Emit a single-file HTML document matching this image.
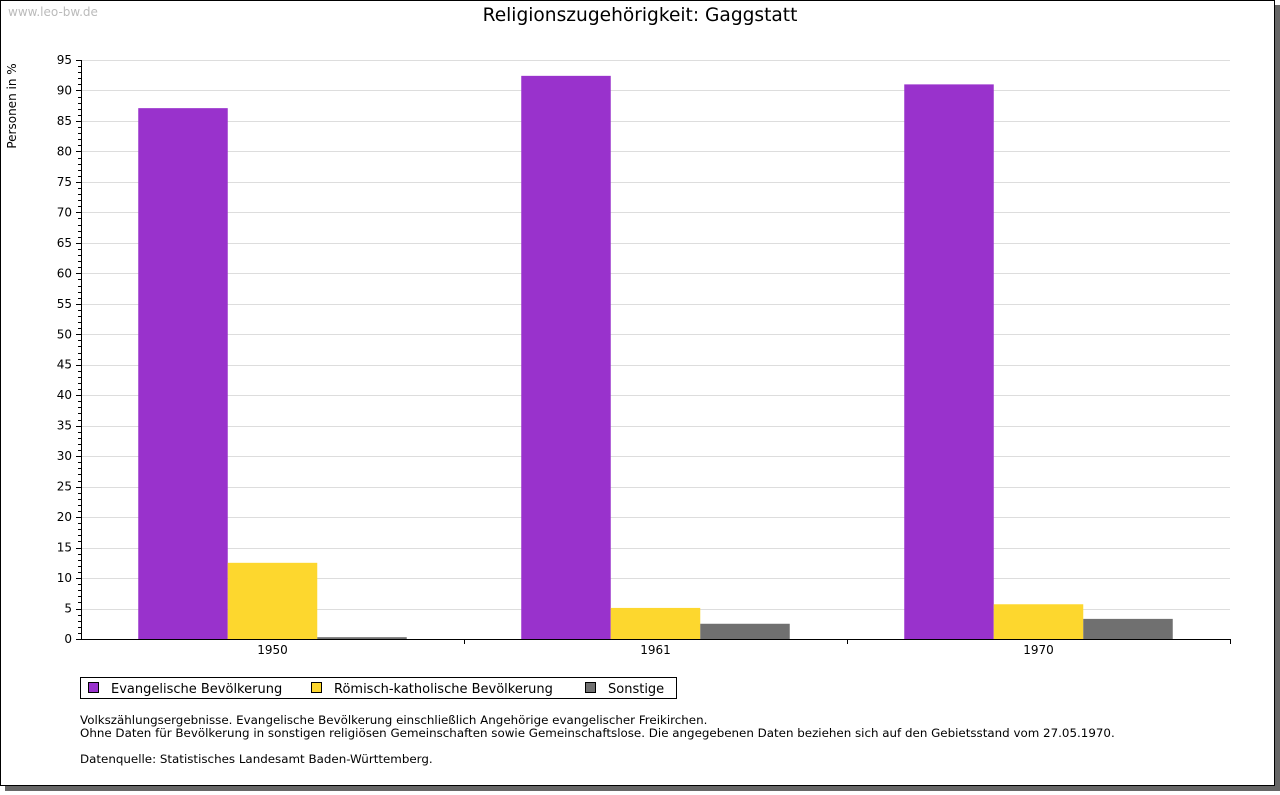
<!DOCTYPE html>
<html><head><meta charset="utf-8"><style>
body{margin:0;background:#fff;font-family:"DejaVu Sans","Liberation Sans",sans-serif;}
svg text{font-family:"DejaVu Sans","Liberation Sans",sans-serif;}
</style></head><body>
<svg id="c" width="1280" height="791" xmlns="http://www.w3.org/2000/svg">
<rect x="5" y="5" width="1275" height="786" fill="#666"/>
<rect x="0.5" y="0.5" width="1274" height="785" fill="#fff" stroke="#000"/>
<text x="8" y="16" font-size="12" fill="#bbb">www.leo-bw.de</text>
<text x="640" y="21" font-size="18.6" text-anchor="middle">Religionszugehörigkeit: Gaggstatt</text>
<text transform="translate(16,106) rotate(-90)" font-size="12" text-anchor="middle">Personen in %</text>
<g id="grid"></g><g id="bars"></g><g id="axes"></g>
<g>
<rect x="80.5" y="677.5" width="596" height="21" fill="#fff" stroke="#000"/>
<rect x="88.5" y="682.5" width="10" height="10" fill="#9932cc" stroke="#000"/>
<text x="111" y="693" font-size="13">Evangelische Bevölkerung</text>
<rect x="311.5" y="682.5" width="10" height="10" fill="#fdd72e" stroke="#000"/>
<text x="334" y="693" font-size="13">Römisch-katholische Bevölkerung</text>
<rect x="585.5" y="682.5" width="10" height="10" fill="#707070" stroke="#000"/>
<text x="608" y="693" font-size="13">Sonstige</text>
</g>
<g font-size="11.86">
<text x="80" y="724">Volkszählungsergebnisse. Evangelische Bevölkerung einschließlich Angehörige evangelischer Freikirchen.</text>
<text x="80" y="737">Ohne Daten für Bevölkerung in sonstigen religiösen Gemeinschaften sowie Gemeinschaftslose. Die angegebenen Daten beziehen sich auf den Gebietsstand vom 27.05.1970.</text>
<text x="80" y="763">Datenquelle: Statistisches Landesamt Baden-Württemberg.</text>
</g>
</svg>
<script>
const categories=["1950","1961","1970"];
const evangelisch=[87.1,92.4,91.0];
const katholisch=[12.5,5.1,5.7];
const sonstige=[0.3,2.5,3.3];
const yTicks=[0,5,10,15,20,25,30,35,40,45,50,55,60,65,70,75,80,85,90,95];
const NS="http://www.w3.org/2000/svg";
const X0=81,X1=1230,Y0=639,Y1=60,YMAX=95;
const y=v=>Y0-(v/YMAX)*(Y0-Y1);
const gw=(X1-X0)/categories.length;
const bw=89.5;
function mk(t,a,p){const e=document.createElementNS(NS,t);for(const k in a)e.setAttribute(k,a[k]);p.appendChild(e);return e;}
const grid=document.getElementById('grid'),bars=document.getElementById('bars'),axes=document.getElementById('axes');
yTicks.forEach(v=>{
 if(v>0){const l=mk('line',{x1:X0,x2:X1,y1:Math.round(y(v))+0.5,y2:Math.round(y(v))+0.5,stroke:'#ddd'},grid);
 
 }
 const t=mk('text',{x:X0-9,y:y(v)+4,'font-size':12,'text-anchor':'end'},axes);t.textContent=v;
 
 
});
for(let v=0;v<=YMAX;v++){mk('line',{x1:X0-(v%5?3:5),x2:X0,y1:Math.round(y(v))+0.5,y2:Math.round(y(v))+0.5,stroke:'#000'},axes);}
mk('line',{x1:X0+0.5,x2:X0+0.5,y1:Y1,y2:Y0,stroke:'#000'},axes);
mk('line',{x1:X0,x2:X1+1,y1:Y0+0.5,y2:Y0+0.5,stroke:'#000'},axes);
const series=[[evangelisch,'#9932cc','evangelisch'],[katholisch,'#fdd72e','katholisch'],[sonstige,'#707070','sonstige']];
categories.forEach((c,i)=>{
 const gx=X0+gw*i, start=gx+(gw-3*bw)/2;
 series.forEach((s,j)=>{
  const r=mk('rect',{x:start+j*bw,y:y(s[0][i]),width:bw,height:Y0-y(s[0][i]),fill:s[1]},bars);
  
  
 });
 mk('line',{x1:Math.round(gx+gw)+0.5,x2:Math.round(gx+gw)+0.5,y1:Y0,y2:Y0+5,stroke:'#000'},axes);
 const t=mk('text',{x:gx+gw/2,y:Y0+15,'font-size':12,'text-anchor':'middle'},axes);t.textContent=c;
 
 
});
</script>
</body></html>
